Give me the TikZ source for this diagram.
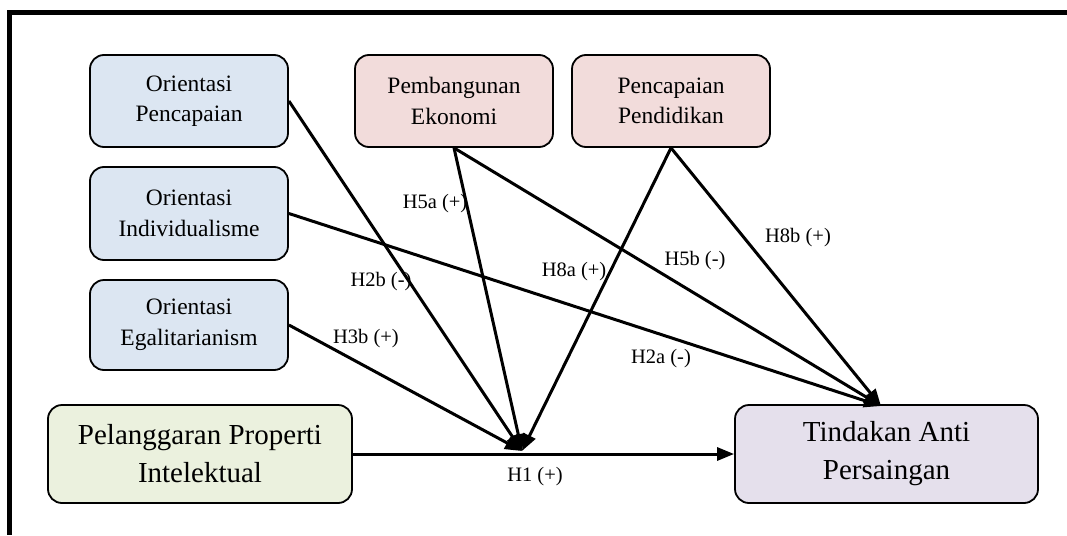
\documentclass[tikz,border=0pt]{standalone}
\usepackage{fontspec}
\setmainfont{Liberation Serif}
\usetikzlibrary{arrows.meta}
\definecolor{boxblue}{HTML}{DCE6F2}
\definecolor{boxpink}{HTML}{F2DCDB}
\definecolor{boxgreen}{HTML}{EBF1DE}
\definecolor{boxpurple}{HTML}{E5E0EC}
\tikzset{
  smallbox/.style={draw=black, line width=1.8pt, rounded corners=14pt, align=center,
    minimum width=198pt, minimum height=92pt, inner sep=0pt,
    font=\fontsize{23.5}{30.5}\selectfont},
  bigbox/.style={draw=black, line width=1.8pt, rounded corners=14pt, align=center,
    minimum height=98pt, inner sep=0pt,
    font=\fontsize{29}{38}\selectfont},
  conn/.style={line width=3pt, -{Triangle[length=17pt,width=13pt]}},
  lbl/.style={font=\fontsize{20.5}{24}\selectfont, inner sep=1pt}
}
\begin{document}
\begin{tikzpicture}[x=1pt,y=-1pt]
\useasboundingbox (0,0) rectangle (1067,535);
% frame
\coordinate (f0) at (9,13);
\coordinate (f1) at (1067,13);
\coordinate (f2) at (9,535);
\draw[line width=5pt] (f1) -- (f0) -- (f2);
% nodes
\node[smallbox, fill=boxblue] (op) at (189,101) {Orientasi\\Pencapaian};
\node[smallbox, fill=boxblue, minimum height=93pt] (oi) at (189,213.5) {Orientasi\\Individualisme};
\node[smallbox, fill=boxblue, minimum height=90pt] (oe) at (189,325) {Orientasi\\Egalitarianism};
\node[smallbox, fill=boxpink] (pe) at (454,101) {Pembangunan\\Ekonomi};
\node[smallbox, fill=boxpink] (pp) at (671,101) {Pencapaian\\Pendidikan};
\node[bigbox, fill=boxgreen, minimum width=304pt] (pl) at (200,454) {Pelanggaran Properti\\Intelektual};
\node[bigbox, fill=boxpurple, minimum width=303pt] (ta) at (886.5,454) {Tindakan Anti\\Persaingan};
% convergence points
\coordinate (cv) at (522,451);
\coordinate (tv) at (881,406);
% connectors
\draw[conn] (pl.east) -- (ta.west);
\draw[conn] (op.east) -- (cv);
\draw[conn] (oe.east) -- (cv);
\draw[conn] (pe.south) -- (cv);
\draw[conn] (pp.south) -- (cv);
\draw[conn] (oi.east) -- (tv);
\draw[conn] (pe.south) -- (tv);
\draw[conn] (pp.south) -- (tv);
% labels
\node[lbl] (l5a) at (435,204) {H5a (+)};
\node[lbl] (l2b) at (381,282) {H2b (-)};
\node[lbl] (l3b) at (366,339) {H3b (+)};
\node[lbl] (l8a) at (574,272) {H8a (+)};
\node[lbl] (l5b) at (695,261) {H5b (-)};
\node[lbl] (l2a) at (661,359) {H2a (-)};
\node[lbl] (l8b) at (798,238) {H8b (+)};
\node[lbl] (l1) at (535,477) {H1 (+)};
\end{tikzpicture}
\end{document}
